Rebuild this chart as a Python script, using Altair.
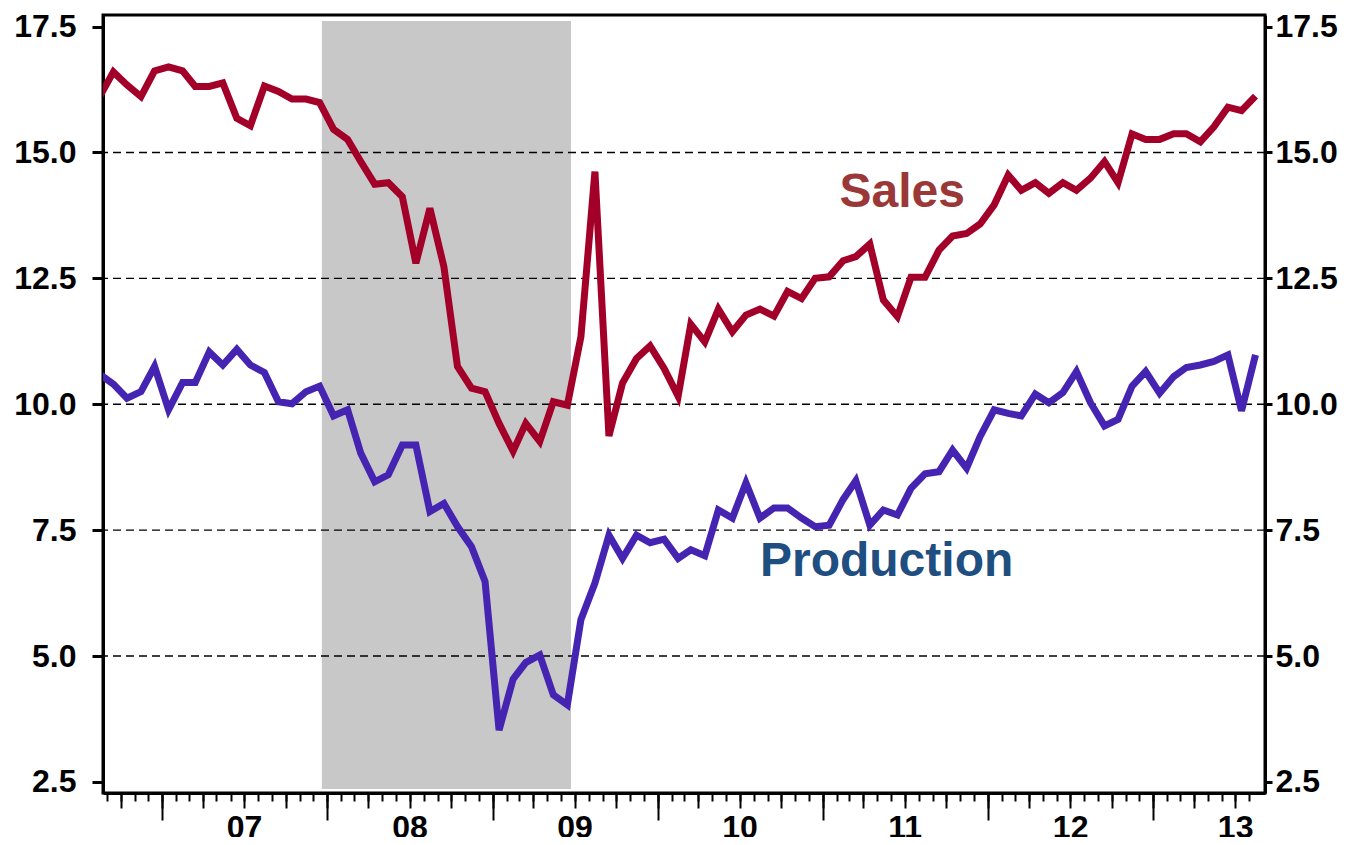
import altair as alt
import pandas as pd

# ---- data (monthly, Aug 2006 - Aug 2013) ----
sales = [16.10, 16.60, 16.34, 16.11, 16.62,
         16.70, 16.62, 16.31, 16.31, 16.38, 15.68, 15.53, 16.32, 16.21, 16.06, 16.06, 15.99,
         15.46, 15.26, 14.82, 14.37, 14.40, 14.12, 12.80, 13.89, 12.73, 10.75, 10.32, 10.25,
         9.62, 9.07, 9.62, 9.26, 10.05, 9.98, 11.34, 14.62, 9.37, 10.42, 10.91, 11.16,
         10.71, 10.16, 11.59, 11.24, 11.89, 11.44, 11.77, 11.89, 11.75, 12.24, 12.10, 12.50,
         12.53, 12.85, 12.93, 13.18, 12.07, 11.74, 12.52, 12.52, 13.06, 13.34, 13.39, 13.58,
         13.96, 14.55, 14.25, 14.40, 14.19, 14.40, 14.25, 14.49, 14.82, 14.40, 15.37, 15.26,
         15.26, 15.37, 15.37, 15.21, 15.51, 15.90, 15.83, 16.12]
production = [10.60, 10.40, 10.12, 10.25, 10.75,
              9.89, 10.43, 10.43, 11.04, 10.78, 11.09, 10.78, 10.63, 10.05, 10.01, 10.25, 10.36,
              9.77, 9.89, 9.03, 8.46, 8.60, 9.19, 9.19, 7.87, 8.03, 7.57, 7.17, 6.48,
              3.53, 4.54, 4.87, 5.02, 4.23, 4.03, 5.72, 6.45, 7.40, 6.94, 7.40, 7.25,
              7.32, 6.94, 7.11, 6.99, 7.90, 7.74, 8.44, 7.74, 7.94, 7.94, 7.74, 7.57,
              7.60, 8.11, 8.48, 7.60, 7.90, 7.80, 8.33, 8.62, 8.66, 9.09, 8.73, 9.36,
              9.89, 9.82, 9.77, 10.20, 10.03, 10.23, 10.65, 10.03, 9.57, 9.70, 10.36, 10.65,
              10.22, 10.55, 10.73, 10.78, 10.85, 10.98, 9.87, 10.98]
months = [(pd.Timestamp("2006-08-01") + pd.DateOffset(months=i) + pd.Timedelta(days=14)).strftime("%Y-%m-%d")
          for i in range(len(sales))]

recession_start = ["2007-12-20"]
recession_end = ["2009-06-23"]
recession_low = [2.36]
recession_high = [17.61]

grid_values = [5.0, 7.5, 10.0, 12.5, 15.0]
y_ticks = [2.5, 5.0, 7.5, 10.0, 12.5, 15.0, 17.5]

label_text = ["Sales", "Production"]
label_date = ["2011-02-07", "2010-08-15"]
label_value = [13.91, 6.59]
label_color = ["#9A3838", "#1F4E80"]

x_domain = ["2006-08-23", "2013-09-05"]
y_domain = [2.28, 17.73]


def ms(s):
    return int(pd.Timestamp(s, tz="UTC").timestamp() * 1000)


month_ticks = [ms((pd.Timestamp("2006-09-01") + pd.DateOffset(months=i)).strftime("%Y-%m-%d")) for i in range(84)]
quarter_ticks = [ms(f"{y}-{m:02d}-01") for y in range(2006, 2014) for m in (1, 4, 7, 10)
                 if pd.Timestamp("2006-09-01") <= pd.Timestamp(f"{y}-{m:02d}-01") <= pd.Timestamp("2013-09-01")]
year_ticks = [ms(f"{y}-01-01") for y in range(2007, 2014)]
label_ticks = [ms(f"{y}-07-01") for y in range(2007, 2014)]

FONT = "Liberation Sans"
LABEL_SIZE = 32
xs = alt.Scale(type="utc", domain=[ms(x_domain[0]), ms(x_domain[1])])
ys = alt.Scale(domain=y_domain, nice=False, zero=False)

df = pd.DataFrame({"date": months, "Sales": sales, "Production": production})
rec = pd.DataFrame({"s": recession_start, "e": recession_end, "lo": recession_low, "hi": recession_high})
grid = pd.DataFrame({"v": grid_values})
labels = pd.DataFrame({"t": label_text, "d": label_date, "v": label_value, "c": label_color})

base_x_axis = dict(orient="bottom", title=None, grid=False, labels=False, tickColor="black", tickWidth=2)

shade = alt.Chart(rec).mark_rect(color="#C8C8C8").encode(
    x=alt.X("s:T", scale=xs, axis=alt.Axis(values=month_ticks, tickSize=8, domain=True, domainColor="black",
                                           domainWidth=3, **base_x_axis)),
    x2="e:T",
    y=alt.Y("lo:Q", scale=ys, axis=alt.Axis(orient="left", values=y_ticks, format=".1f", title=None, grid=False,
                                            labelFont=FONT, labelFontSize=LABEL_SIZE, labelFontWeight="bold",
                                            labelColor="black", labelPadding=16, tickSize=11, tickWidth=3,
                                            tickColor="black", domainColor="black", domainWidth=3,
                                            labelFlush=False, labelOverlap=False)),
    y2="hi:Q",
)

gridlines = alt.Chart(grid).mark_rule(color="black", strokeWidth=1.4, strokeDash=[8, 5]).encode(
    y=alt.Y("v:Q", scale=ys, axis=alt.Axis(orient="right", values=y_ticks, format=".1f", title=None, grid=False,
                                           labelFont=FONT, labelFontSize=LABEL_SIZE, labelFontWeight="bold",
                                           labelColor="black", labelPadding=3, tickSize=7, tickWidth=3,
                                           tickColor="black", domainColor="black", domainWidth=3,
                                           labelFlush=False, labelOverlap=False)),
)

prod_line = alt.Chart(df).mark_line(color="#4524B2", strokeWidth=7, clip=True).encode(
    x=alt.X("date:T", scale=xs, axis=alt.Axis(values=year_ticks, tickSize=27, domain=False, **base_x_axis)),
    y=alt.Y("Production:Q", scale=ys, axis=None),
)

sales_line = alt.Chart(df).mark_line(color="#A30029", strokeWidth=7, clip=True).encode(
    x=alt.X("date:T", scale=xs, axis=alt.Axis(values=quarter_ticks, tickSize=15, domain=False, **base_x_axis)),
    y=alt.Y("Sales:Q", scale=ys, axis=None),
)

text = alt.Chart(labels).mark_text(font=FONT, fontSize=48, fontWeight="bold", align="left",
                                   baseline="alphabetic").encode(
    x=alt.X("d:T", scale=xs, axis=alt.Axis(orient="bottom", values=label_ticks, title=None, grid=False,
                                           ticks=False, tickSize=0, domain=False,
                                           labelExpr="utcFormat(datum.value, '%y')",
                                           labelFont=FONT, labelFontSize=LABEL_SIZE, labelFontWeight="bold",
                                           labelColor="black", labelPadding=19, labelFlush=False,
                                           labelOverlap=False)),
    y=alt.Y("v:Q", scale=ys, axis=None),
    text="t:N",
    color=alt.Color("c:N", scale=None),
)

chart = alt.layer(shade, gridlines, prod_line, sales_line, text).resolve_axis(
    x="independent", y="independent"
).properties(
    width=1162, height=778,
    autosize=alt.AutoSizeParams(type="none"),
    padding={"left": 95, "top": 7, "right": 78, "bottom": 44},
    background="white",
).configure_view(stroke="black", strokeWidth=3)

chart.save("out.html", embed_options={"renderer": "svg", "actions": False})
